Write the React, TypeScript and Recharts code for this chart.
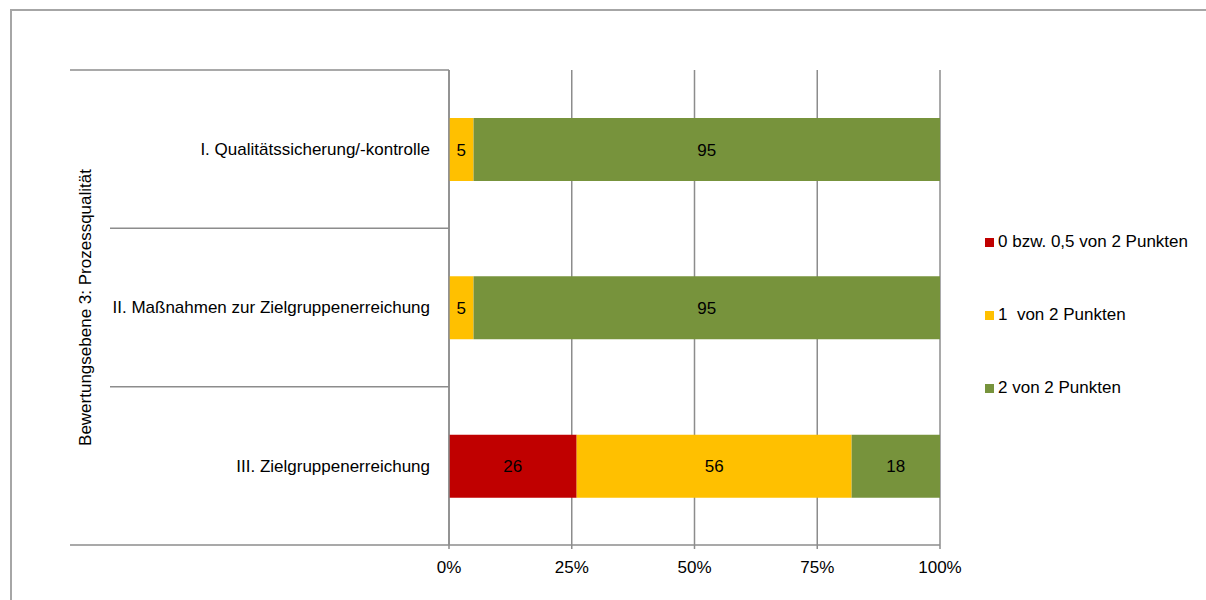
import { BarChart, Bar, XAxis, YAxis, CartesianGrid, LabelList } from 'recharts';

// Categories (top to bottom) and shares per rating level, in percent
const categories = [
  'I. Qualitätssicherung/-kontrolle',
  'II. Maßnahmen zur Zielgruppenerreichung',
  'III. Zielgruppenerreichung',
];
const lowScores = [0, 0, 26];
const midScores = [5, 5, 56];
const highScores = [95, 95, 18];

const seriesNames = ['0 bzw. 0,5 von 2 Punkten', '1  von 2 Punkten', '2 von 2 Punkten'];
const seriesColors = ['#C00000', '#FFC000', '#77933C'];
const xTicks = [0, 25, 50, 75, 100];
const axisTitle = 'Bewertungsebene 3: Prozessqualität';

const CHART_W = 1206;
const CHART_H = 600;
const X_AXIS_H = 30;
const MARGIN = { top: 70, right: 266, bottom: 25, left: 0 };
const Y_AXIS_W = 449;
const AXIS_X = MARGIN.left + Y_AXIS_W;
const PLOT_H = CHART_H - MARGIN.top - MARGIN.bottom - X_AXIS_H;
const LINE = '#8c8c8c';
const FONT = '"Liberation Sans", Arial, sans-serif';
const FS = 17;

const chartData = categories.map((name, i) => ({
  name,
  low: lowScores[i],
  mid: midScores[i],
  high: highScores[i],
}));

// category label plus the separator lines of the two-level axis
const CategoryTick = (props: any) => {
  const { y, payload, index } = props;
  const band = PLOT_H / categories.length;
  const top = y - band / 2;
  return (
    <g>
      <text
        x={AXIS_X - 19}
        y={y}
        dy="0.35em"
        textAnchor="end"
        fontSize={FS}
        fontFamily={FONT}
        fill="#000"
      >
        {payload.value}
      </text>
      <line x1={index === 0 ? 70 : 110} x2={AXIS_X} y1={top} y2={top} stroke={LINE} strokeWidth={1.5} />
      {index === categories.length - 1 && (
        <line x1={70} x2={AXIS_X} y1={top + band} y2={top + band} stroke={LINE} strokeWidth={1.5} />
      )}
    </g>
  );
};

const LegendBox = () => (
  <div style={{ position: 'absolute', left: 985, top: 231, fontFamily: FONT, fontSize: FS, color: '#000' }}>
    {seriesNames.map((n, i) => (
      <div key={n} style={{ display: 'flex', alignItems: 'center', height: 22, marginBottom: i < 2 ? 51 : 0 }}>
        <span style={{ width: 9, height: 9, background: seriesColors[i], marginRight: 4, display: 'inline-block' }} />
        <span style={{ whiteSpace: 'pre' }}>{n}</span>
      </div>
    ))}
  </div>
);

const hideZero = (v: any) => (v ? v : '');

export default function App() {
  return (
    <div style={{ position: 'absolute', left: 0, top: 0, width: CHART_W, height: CHART_H, background: '#fff', overflow: 'hidden' }}>
      <div
        style={{
          position: 'absolute',
          left: 10,
          top: 9,
          width: CHART_W,
          height: CHART_H,
          borderTop: '2px solid #a6a6a6',
          borderLeft: '2px solid #a6a6a6',
        }}
      />
      <div style={{ position: 'absolute', left: 0, top: 0 }}>
        <BarChart
          width={CHART_W}
          height={CHART_H}
          data={chartData}
          layout="vertical"
          margin={MARGIN}
          barSize={63}
        >
          <CartesianGrid horizontal={false} stroke={LINE} strokeWidth={1.5} />
          <XAxis
            type="number"
            domain={[0, 100]}
            ticks={xTicks}
            height={X_AXIS_H}
            tickFormatter={(v) => `${v}%`}
            axisLine={{ stroke: LINE, strokeWidth: 1.5 }}
            tickLine={{ stroke: LINE, strokeWidth: 1.5 }}
            tickSize={4}
            tickMargin={12}
            tick={{ fill: '#000', fontSize: FS, fontFamily: FONT }}
          />
          <YAxis
            type="category"
            dataKey="name"
            width={Y_AXIS_W}
            axisLine={{ stroke: LINE, strokeWidth: 1.5 }}
            tickLine={false}
            tick={<CategoryTick />}
            label={{
              content: (p: any) => {
                const vb = p.viewBox;
                const cx = 85;
                const cy = vb.y + vb.height / 2;
                return (
                  <text
                    x={cx}
                    y={cy}
                    transform={`rotate(-90 ${cx} ${cy})`}
                    textAnchor="middle"
                    dy="0.35em"
                    fontSize={FS}
                    fontFamily={FONT}
                    fill="#000"
                  >
                    {axisTitle}
                  </text>
                );
              },
            }}
          />
          <Bar dataKey="low" stackId="a" fill={seriesColors[0]} name={seriesNames[0]} isAnimationActive={false}>
            <LabelList dataKey="low" position="center" formatter={hideZero} fill="#000" fontSize={FS} fontFamily={FONT} />
          </Bar>
          <Bar dataKey="mid" stackId="a" fill={seriesColors[1]} name={seriesNames[1]} isAnimationActive={false}>
            <LabelList dataKey="mid" position="center" formatter={hideZero} fill="#000" fontSize={FS} fontFamily={FONT} />
          </Bar>
          <Bar dataKey="high" stackId="a" fill={seriesColors[2]} name={seriesNames[2]} isAnimationActive={false}>
            <LabelList dataKey="high" position="center" formatter={hideZero} fill="#000" fontSize={FS} fontFamily={FONT} />
          </Bar>
        </BarChart>
      </div>
      <LegendBox />
    </div>
  );
}
